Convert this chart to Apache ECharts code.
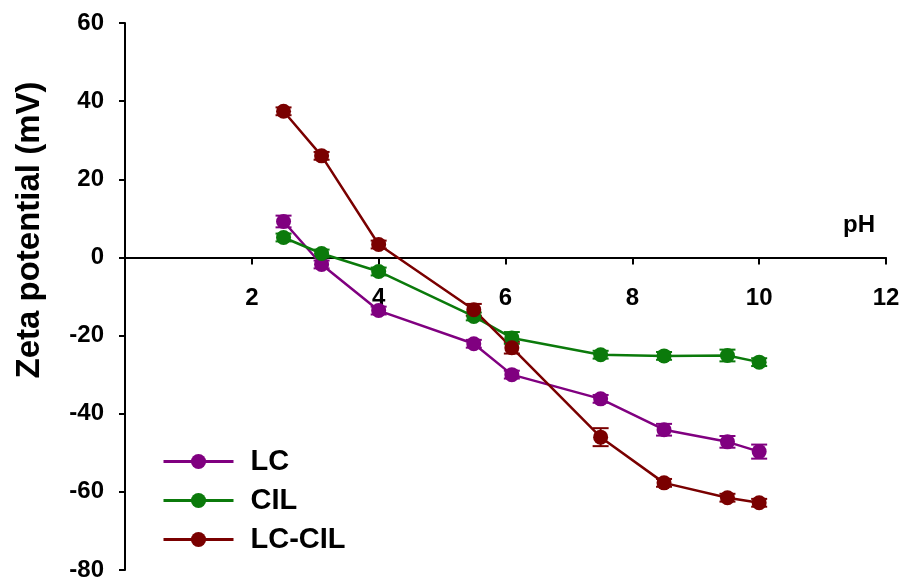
<!DOCTYPE html>
<html><head><meta charset="utf-8">
<script src="https://cdn.jsdelivr.net/npm/echarts@6/dist/echarts.min.js"></script>
<style>html,body{margin:0;padding:0;background:#fff}#c{width:901px;height:579px}</style>
</head><body><div id="c"></div>
<script>
const pH = [2.5, 3.1, 4, 5.5, 6.1, 7.5, 8.5, 9.5, 10];
const lc = [9.2, -1.8, -13.6, -22.1, -30.0, -36.2, -44.1, -47.2, -49.7];
const lcErr = [1.5, 1, 1, 1, 1, 1, 1.5, 1.5, 1.8];
const cil = [5.1, 1.0, -3.6, -15.1, -20.6, -24.9, -25.2, -25.1, -26.8];
const cilErr = [1, 1, 1, 1, 1.5, 1, 1, 1.5, 1];
const lccil = [37.4, 26.0, 3.3, -13.4, -23.1, -46.0, -57.7, -61.5, -62.8];
const lccilErr = [1, 1, 1, 1.5, 1.5, 2.3, 1, 1, 1];
const names = ['LC', 'CIL', 'LC-CIL'];
const colors = ['#800080', '#0b7a0b', '#7a0000'];
const yTicks = [-80, -60, -40, -20, 0, 20, 40, 60];
const xTicks = [0, 2, 4, 6, 8, 10, 12];

const FONT = 'Liberation Sans, Arial, sans-serif';
const chart = echarts.init(document.getElementById('c'));

function errSeries(vals, errs, color) {
  return {
    type: 'custom',
    silent: true,
    z: 3,
    data: pH.map((x, i) => [x, vals[i] - errs[i], vals[i] + errs[i]]),
    renderItem: function (params, api) {
      const lo = api.coord([api.value(0), api.value(1)]);
      const hi = api.coord([api.value(0), api.value(2)]);
      const w = 8;
      const st = { stroke: color, lineWidth: 2 };
      return { type: 'group', children: [
        { type: 'line', shape: { x1: lo[0], y1: lo[1], x2: hi[0], y2: hi[1] }, style: st },
        { type: 'line', shape: { x1: lo[0] - w, y1: lo[1], x2: lo[0] + w, y2: lo[1] }, style: st },
        { type: 'line', shape: { x1: hi[0] - w, y1: hi[1], x2: hi[0] + w, y2: hi[1] }, style: st }
      ]};
    }
  };
}
function lineSeries(name, vals, color) {
  return {
    name: name, type: 'line', z: 4,
    data: pH.map((x, i) => [x, vals[i]]),
    symbol: 'circle', symbolSize: 15,
    lineStyle: { color: color, width: 2.5 },
    itemStyle: { color: color },
    emphasis: { disabled: true }
  };
}

chart.setOption({
  animation: false,
  grid: { left: 125, right: 15, top: 23, bottom: 9, containLabel: false, outerBoundsMode: 'none' },
  legend: {
    orient: 'vertical', left: 162, top: 447, padding: 0, itemWidth: 70, itemHeight: 19, itemGap: 10,
    data: names,
    lineStyle: { width: 3 },
    textStyle: { fontFamily: FONT, fontWeight: 'bold', fontSize: 29, color: '#000', padding: [0, 0, 0, 12] }
  },
  xAxis: {
    type: 'value', min: xTicks[0], max: xTicks[xTicks.length - 1], interval: 2,
    axisLine: { onZero: false, lineStyle: { color: '#000', width: 2 } },
    axisTick: { show: true, length: 7, lineStyle: { color: '#000', width: 2 } },
    axisLabel: { showMinLabel: false, margin: 29, fontFamily: FONT, fontWeight: 'bold', fontSize: 24, color: '#000' },
    splitLine: { show: false },
    name: 'pH', nameLocation: 'end', nameGap: -43,
    nameTextStyle: { fontFamily: FONT, fontWeight: 'bold', fontSize: 24, color: '#000', verticalAlign: 'bottom', padding: [0, 0, 20, 0] }
  },
  yAxis: {
    type: 'value', min: yTicks[0], max: yTicks[yTicks.length - 1], interval: 20,
    axisLine: { show: true, lineStyle: { color: '#000', width: 2 } },
    axisTick: { show: true, length: 6, lineStyle: { color: '#000', width: 2 } },
    axisLabel: { margin: 21, fontFamily: FONT, fontWeight: 'bold', fontSize: 24, color: '#000' },
    splitLine: { show: false }
  },
  graphic: [{
    type: 'text', x: 30, y: 230, rotation: Math.PI / 2,
    style: { text: 'Zeta potential (mV)', fontFamily: FONT, fontWeight: 'bold', fontSize: 33, fill: '#000', align: 'center', verticalAlign: 'middle' }
  }],
  series: [
    errSeries(lc, lcErr, colors[0]),
    errSeries(cil, cilErr, colors[1]),
    errSeries(lccil, lccilErr, colors[2]),
    lineSeries(names[0], lc, colors[0]),
    lineSeries(names[1], cil, colors[1]),
    lineSeries(names[2], lccil, colors[2])
  ]
});
// Move the whole x axis (line, ticks, labels, name) up to where y = 0 sits.
const zeroPx = chart.convertToPixel({ yAxisIndex: 0 }, 0);
const bottomPx = chart.convertToPixel({ yAxisIndex: 0 }, yTicks[0]);
chart.setOption({ xAxis: { offset: zeroPx - bottomPx } });
</script></body></html>
